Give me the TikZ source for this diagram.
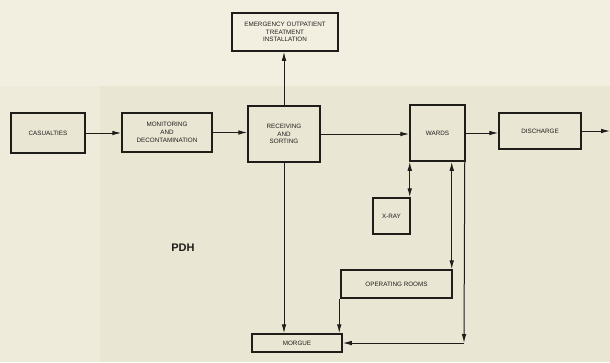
\documentclass[tikz,border=0pt]{standalone}
\usepackage{fontspec}
\setmainfont{Liberation Sans}
\usetikzlibrary{arrows.meta}
\definecolor{paper}{HTML}{E9E6D3}
\definecolor{paperlight}{HTML}{F2EFE1}
\definecolor{paperleft}{HTML}{EEEBDB}
\definecolor{ink}{HTML}{1E1D1A}
\begin{document}
\begin{tikzpicture}[x=1pt,y=-1pt,
  box/.style={draw=ink,line width=1.5pt,fill=paper,align=center,inner sep=1pt,
    font=\fontsize{6.3}{7.8}\selectfont,text=ink},
  conn/.style={draw=ink,line width=1pt,-{Latex[length=9pt,width=4.6pt]}},
  bconn/.style={draw=ink,line width=1pt,{Latex[length=9pt,width=4.6pt]}-{Latex[length=9pt,width=4.6pt]}}]
\fill[paper] (0,0) rectangle (610,362);
\fill[paperlight] (0,0) rectangle (610,86);
\fill[paperleft] (0,86) rectangle (100,362);
\useasboundingbox (0,0) rectangle (610,362);

\node[box,minimum width=74pt,minimum height=40pt] (cas) at (48,133) {CASUALTIES};
\node[box,minimum width=90pt,minimum height=39pt] (mon) at (167,132.5) {MONITORING\\AND\\DECONTAMINATION};
\node[box,minimum width=72pt,minimum height=56pt] (rec) at (284,134) {RECEIVING\\AND\\SORTING};
\node[box,minimum width=106pt,minimum height=38pt,fill=paperlight] (emg) at (285,32) {EMERGENCY OUTPATIENT\\TREATMENT\\INSTALLATION};
\node[box,minimum width=55pt,minimum height=56pt] (wards) at (437.5,133) {WARDS};
\node[box,minimum width=82pt,minimum height=36pt] (dis) at (540,131) {DISCHARGE};
\node[box,minimum width=37pt,minimum height=36pt] (xray) at (391.5,216) {X-RAY};
\node[box,minimum width=111pt,minimum height=28pt] (ops) at (396.5,284) {OPERATING ROOMS};
\node[box,minimum width=90pt,minimum height=18pt] (morg) at (297,343) {MORGUE};
\node[font=\bfseries\fontsize{11}{13}\selectfont,text=ink] (pdh) at (183,248) {PDH};

\coordinate (out) at (610,131);
\coordinate (corner) at (464,343);

\draw[conn] (cas.east) -- (cas.east -| mon.west);
\draw[conn] (mon.east) -- (mon.east -| rec.west);
\draw[conn] (rec.north) -- (rec.north |- emg.south);
\draw[conn] (rec.east) -- (rec.east -| wards.west);
\draw[conn] (wards.east) -- (wards.east -| dis.west);
\draw[conn] (dis.east) -- (out);
\draw[bconn] ([xshift=-1pt]xray.north east) -- ([xshift=-1pt]xray.north east |- wards.south);
\draw[bconn] ([xshift=-1pt]ops.north east) -- ([xshift=-1pt]ops.north east |- wards.south);
\draw[conn] ([xshift=-1pt]wards.south east) -- (corner);
\draw[conn] (corner) -- (morg.east);
\draw[conn] (rec.south) -- (rec.south |- morg.north);
\draw[conn] ([xshift=-1pt]ops.south west) -- ([xshift=-1pt]ops.south west |- morg.north);
\end{tikzpicture}
\end{document}
